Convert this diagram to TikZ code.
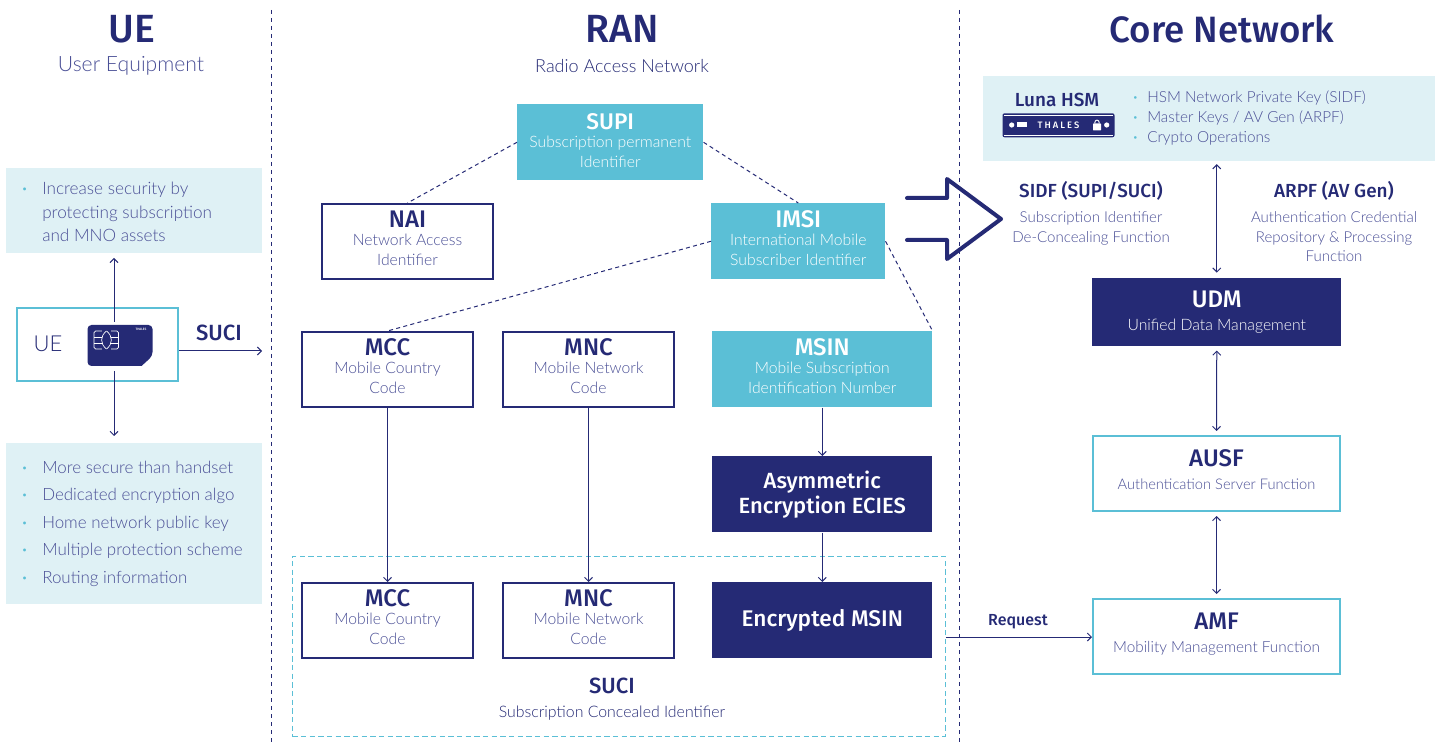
\documentclass[tikz,border=0pt]{standalone}
\usepackage{fontspec}
\usetikzlibrary{arrows.meta,calc}
\setmainfont{Lato Light}
\newfontfamily\headf{Fira Sans Medium}
\definecolor{navy}{HTML}{252A75}
\definecolor{cyn}{HTML}{5BBFD6}
\definecolor{pale}{HTML}{DFF1F5}
\definecolor{subc}{HTML}{4A4F96}
\newcommand\hd[2]{{\headf\fontsize{#1}{#1}\selectfont #2}}
\newcommand\lt[2]{{\fontsize{#1}{#1}\selectfont #2}}
\newcommand\sbc[1]{\textcolor{subc}{#1}}
\newcommand\bul{\makebox[15pt][l]{\textcolor{cyn}{\bfseries ·}}}
\newcommand\nob{\makebox[15pt][l]{}}
\newcommand\hbul{\makebox[10.5pt][l]{\textcolor{cyn}{\bfseries ·}}}
\tikzset{
 x=0.75pt,y=-0.75pt,
 sz/.style 2 args={minimum width=#1*0.75pt,minimum height=#2*0.75pt,inner sep=0pt,align=center},
 fs/.style={font=\fontsize{#1}{14.6}\selectfont},
 tri/.style={text depth=5.5pt},
 outl/.style={draw=navy,line width=1.5pt,fill=white,text=navy},
 cbox/.style={draw=cyn,line width=1.5pt,fill=white,text=navy},
 cfill/.style={fill=cyn,text=white},
 dfill/.style={fill=navy,text=white},
 palebox/.style={fill=pale,inner sep=0pt},
 lbl/.style={inner sep=0pt,align=center,text=navy},
 listt/.style={inner sep=0pt,align=left,anchor=west,text=subc},
 vdash/.style={draw=navy,line width=0.75pt,dash pattern=on 3pt off 3pt},
 ldash/.style={draw=navy,line width=0.75pt,dash pattern=on 3pt off 2.5pt},
 arr/.style={draw=navy,line width=0.75pt,-{Straight Barb[length=3pt,width=6pt]}},
 darr/.style={draw=navy,line width=0.75pt,{Straight Barb[length=3pt,width=6pt]}-{Straight Barb[length=3pt,width=6pt]}},
}
\begin{document}
\begin{tikzpicture}
\useasboundingbox (0,0) rectangle (1435,748);
% separators
\coordinate (v1t) at (271,10); \coordinate (v1b) at (271,745);
\coordinate (v2t) at (959,10); \coordinate (v2b) at (959,745);
\draw[vdash] (v1t) -- (v1b);
\draw[vdash] (v2t) -- (v2b);
% headings
\node[lbl] (tue) at (132,29) {\hd{29.5}{UE}};
\node[lbl] (tues) at (131,65.5) {\lt{15.85}{\sbc{User Equipment}}};
\node[lbl] (tran) at (622,29) {\hd{29.5}{RAN}};
\node[lbl] (trans) at (622,66) {\lt{13.5}{Radio Access Network}};
\node[lbl] (tcore) at (1222,29) {\hd{27.5}{Core Network}};
% left column
\node[palebox,sz={256}{85},anchor=north west] (info1) at (6,168) {};
\node[listt,font=\fontsize{12.85}{17.6}\selectfont] (info1t) at (22,212) {\bul Increase security by\\ \nob protecting subscription\\ \nob and MNO assets};
\node[palebox,sz={256}{161},anchor=north west] (info2) at (6,443) {};
\node[listt,font=\fontsize{12.7}{20.6}\selectfont] (info2t) at (22,523.5) {\bul More secure than handset\\ \bul Dedicated encryption algo\\ \bul Home network public key\\ \bul Multiple protection scheme\\ \bul Routing information};
\node[cbox,sz={161}{73},anchor=north west] (ue) at (16.2,307) {};
\node[lbl] (uet) at (48,344) {\lt{16.5}{UE}};
\node[inner sep=0pt,minimum width=48pt,minimum height=30.75pt,anchor=north west] (card) at (88,325) {};
\coordinate (cardtop) at (114,322);
\coordinate (cardbot) at (114,371);
\draw[arr] (cardtop) -- (114,258);
\draw[arr] (cardbot) -- (114,436);
\fill[navy,rounded corners=3pt] (87.5,325) -- (152.5,325) -- (152.5,356) [sharp corners] -- (141.5,366) [rounded corners=3pt] -- (87.5,366) -- cycle;
\draw[white,line width=0.5pt,rounded corners=1.2pt] (94,331) rectangle (118.5,349);
\fill[navy] (102,329) rectangle (111,351);
\draw[white,line width=0.5pt] (106.5,331) .. controls (100,336) and (100,344) .. (106.5,349);
\draw[white,line width=0.5pt] (106.5,331) .. controls (113,336) and (113,344) .. (106.5,349);
\draw[white,line width=0.5pt] (94,337) -- (102,337) (94,343) -- (102,343) (111,337) -- (118.5,337) (111,343) -- (118.5,343);
\node[inner sep=0pt,text=white] (cardt) at (141,329.5) {\hd{2.4}{THALES}};
\node[lbl] (sucit) at (219,333) {\hd{16.5}{SUCI}};
\coordinate (ranin) at (262,351);
\draw[arr] (ue.east |- ranin) -- (ranin);
% RAN top
\node[cfill,fs=11.8,sz={186}{76},anchor=north west,text depth=3pt] (supi) at (517,104) {\hd{17}{SUPI}\\[-1pt]Subscription permanent\\Identifier};
\node[outl,fs=11.8,sz={171}{75},anchor=north west,tri] (nai) at (321,203) {\hd{18}{NAI}\\[-0.7pt]\sbc{Network Access}\\\sbc{Identifier}};
\node[cfill,fs=11.8,sz={174}{76},anchor=north west,tri] (imsi) at (711,203) {\hd{18}{IMSI}\\[-0.7pt]International Mobile\\Subscriber Identifier};
\node[outl,fs=11.8,sz={171}{75},anchor=north west,tri] (mcc) at (301,331) {\hd{18}{MCC}\\[-0.7pt]\sbc{Mobile Country}\\\sbc{Code}};
\node[outl,fs=11.8,sz={171}{75},anchor=north west,tri] (mnc) at (502,331) {\hd{18}{MNC}\\[-0.7pt]\sbc{Mobile Network}\\\sbc{Code}};
\node[cfill,fs=11.8,sz={220}{76},anchor=north west,tri] (msin) at (712,331) {\hd{18}{MSIN}\\[-0.7pt]Mobile Subscription\\Identification Number};
\node[dfill,fs=11.8,sz={220}{76},anchor=north west] (asym) at (712,456) {\hd{16.5}{Asymmetric}\\[1pt]\hd{16.5}{Encryption ECIES}};
% SUCI group
\node[draw=cyn,line width=1pt,dash pattern=on 4pt off 2.5pt,sz={653}{180},anchor=north west] (grp) at (291.6,555.6) {};
\node[outl,fs=11.8,sz={171}{75},anchor=north west,tri] (mccb) at (301,582) {\hd{18}{MCC}\\[-0.7pt]\sbc{Mobile Country}\\\sbc{Code}};
\node[outl,fs=11.8,sz={171}{75},anchor=north west,tri] (mncb) at (502,582) {\hd{18}{MNC}\\[-0.7pt]\sbc{Mobile Network}\\\sbc{Code}};
\node[dfill,sz={220}{76},anchor=north west] (enc) at (712,582) {\hd{17}{Encrypted MSIN}};
\node[lbl] (grpt) at (612,686) {\hd{16.5}{SUCI}};
\node[lbl] (grps) at (612,713.5) {\lt{11.9}{Subscription Concealed Identifier}};
% RAN connectors
\draw[ldash] (supi.west) -- (nai.north);
\draw[ldash] (supi.east) -- (imsi.north);
\draw[ldash] (imsi.west) -- (mcc.north);
\draw[ldash] (imsi.east) -- (msin.north east);
\draw[arr] (mcc.south) -- (mccb.north);
\draw[arr] (mnc.south) -- (mncb.north);
\draw[arr] (msin.south) -- (asym.north);
\draw[arr] (asym.south) -- (enc.north);
% big arrow
\draw[navy,line width=3pt,line cap=round,line join=round] (907,198) -- (947,198) -- (947,179) -- (1001,219) -- (947,259) -- (947,240) -- (907,240);
% core
\node[palebox,sz={452}{85},anchor=north west] (hsm) at (983,76) {};
\node[lbl] (hsmt) at (1057,100) {\hd{14.2}{Luna HSM}};
\node[fill=navy,rounded corners=1.5pt,minimum width=84pt,minimum height=18pt,inner sep=0pt,text=white] (bar) at (1058.5,125.3) {\hd{7}{\addfontfeature{LetterSpace=22}THALES}};
\draw[white,line width=0.5pt] (1004,115.5) -- (1113,115.5);
\draw[white,line width=0.5pt] (1004,135) -- (1113,135);
\fill[white] (1011.7,125) circle (2.6);
\fill[white] (1016.7,122.3) rectangle (1026.7,127.3);
\fill[white,rounded corners=0.5pt] (1093,123.5) rectangle (1101,130.5);
\draw[white,line width=0.7pt] (1094.8,123.5) -- (1094.8,122.5) arc (180:0:2.2 and -2.4) -- (1099.2,123.5);
\fill[white] (1106.7,125) circle (2.6);
\node[listt,font=\fontsize{11.5}{15}\selectfont] (hsml) at (1133,118) {\hbul HSM Network Private Key (SIDF)\\ \hbul Master Keys / AV Gen (ARPF)\\ \hbul Crypto Operations};
\node[lbl,fs=11.3] (sidf) at (1091,213) {\hd{14.2}{SIDF (SUPI/SUCI)}\\[4.7pt]\sbc{Subscription Identifier}\\\sbc{De-Concealing Function}};
\node[lbl,fs=11.25] (arpf) at (1334,221.5) {\hd{14.2}{ARPF (AV Gen)}\\[4.7pt]\sbc{Authentication Credential}\\\sbc{Repository \& Processing}\\\sbc{Function}};
\node[dfill,fs=11.8,sz={249}{68},anchor=north west] (udm) at (1092,278) {\hd{18}{UDM}\\[2.4pt]Unified Data Management};
\node[cbox,fs=11,sz={247}{75},anchor=north west,text depth=5.8pt] (ausf) at (1092,435) {\hd{18}{AUSF}\\[2.4pt]\sbc{Authentication Server Function}};
\node[cbox,fs=11.5,sz={247}{75},anchor=north west,text depth=5.8pt] (amf) at (1092,598) {\hd{18}{AMF}\\[2.4pt]\sbc{Mobility Management Function}};
\draw[darr] ([yshift=-2pt]hsm.south -| udm.north) -- ([yshift=4pt]udm.north);
\draw[darr] ([yshift=-3pt]udm.south) -- ([yshift=3pt]ausf.north);
\draw[darr] ([yshift=-3pt]ausf.south) -- ([yshift=3pt]amf.north);
\node[lbl] (req) at (1018,622) {\hd{12}{Request}};
\draw[arr] ([yshift=-0.4pt]grp.east |- amf.west) -- ([yshift=-0.4pt]amf.west);
\end{tikzpicture}
\end{document}
